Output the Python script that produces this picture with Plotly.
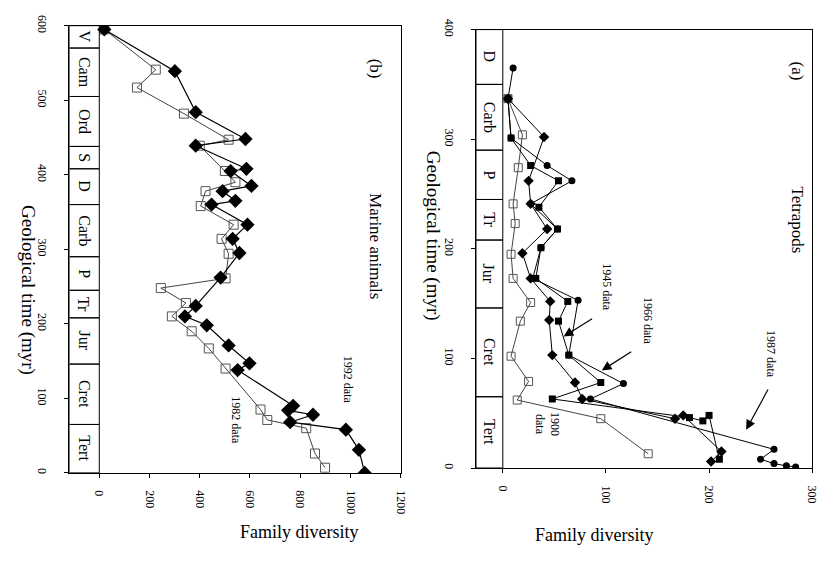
import plotly.graph_objects as go

# ---------------- Panel (b): Marine animals ----------------
b92_time = [595, 539, 484, 448, 439, 408, 405, 385, 378, 365, 360, 333, 314, 295, 262, 224, 210, 198, 171, 147, 138, 90, 84, 78, 68, 58, 31, 0]
b92_div = [20, 301, 384, 582, 384, 586, 523, 606, 491, 542, 447, 590, 531, 558, 483, 384, 341, 428, 515, 598, 551, 772, 752, 851, 760, 982, 1034, 1057]

b82_time = [595, 541, 517, 482, 447, 439, 405, 390, 378, 358, 333, 314, 294, 261, 248, 228, 210, 190, 167, 140, 85, 71, 60, 26, 7]
b82_div = [20, 225, 150, 337, 515, 400, 500, 542, 423, 404, 535, 487, 515, 503, 245, 345, 289, 368, 436, 503, 642, 669, 824, 859, 899]

b_periods = ["V", "Cam", "Ord", "S", "D", "Carb", "P", "Tr", "Jur", "Cret", "Tert"]
b_bounds = [600, 570, 505, 438, 408, 360, 290, 245, 208, 146, 65, 0]
b_xticks = [0, 200, 400, 600, 800, 1000, 1200]
b_yticks = [0, 100, 200, 300, 400, 500, 600]

# ---------------- Panel (a): Tetrapods ----------------
a00_time = [337, 304, 274, 241, 223, 195, 173, 151, 134, 102, 79, 62, 45, 13]
a00_div = [5, 19, 15, 10, 12, 8, 10, 27, 17, 8, 25, 14, 95, 141]

a45_time = [337, 302, 262, 241, 218, 196, 173, 152, 135, 103, 78, 63, 45, 48, 15, 6]
a45_div = [5, 40, 25, 27, 43, 19, 27, 46, 45, 48, 70, 77, 167, 175, 212, 202]

a66_time = [337, 301, 276, 262, 238, 218, 201, 173, 152, 134, 103, 78, 63, 46, 43, 48, 8]
a66_div = [5, 8, 27, 54, 35, 53, 37, 32, 63, 54, 64, 95, 48, 181, 194, 200, 210]

a87_time = [365, 337, 301, 276, 262, 241, 218, 201, 173, 153, 103, 77, 63, 17, 8, 4, 2, 1]
a87_div = [10, 5, 8, 43, 67, 27, 53, 37, 29, 73, 64, 117, 85, 263, 250, 263, 275, 284]

a_periods = ["D", "Carb", "P", "Tr", "Jur", "Cret", "Tert"]
a_bounds = [400, 350, 290, 245, 208, 146, 65, 0]
a_xticks = [0, 100, 200, 300]
a_yticks = [0, 100, 200, 300, 400]

SERIF = "Liberation Serif"
W, H = 839, 561

fig = go.Figure()

# panel b traces
fig.add_trace(go.Scatter(x=b82_div, y=b82_time, mode="lines+markers", xaxis="x", yaxis="y",
                         line=dict(color="#444", width=1),
                         marker=dict(symbol="square-open", size=9, color="#555", line=dict(width=1)),
                         showlegend=False))
fig.add_trace(go.Scatter(x=b92_div, y=b92_time, mode="lines+markers", xaxis="x", yaxis="y",
                         line=dict(color="black", width=1.2),
                         marker=dict(symbol="diamond", size=11, color="black"),
                         showlegend=False))

# panel a traces
fig.add_trace(go.Scatter(x=a00_div, y=a00_time, mode="lines+markers", xaxis="x2", yaxis="y2",
                         line=dict(color="#444", width=1),
                         marker=dict(symbol="square-open", size=8, color="#555", line=dict(width=1)),
                         showlegend=False))
fig.add_trace(go.Scatter(x=a45_div, y=a45_time, mode="lines+markers", xaxis="x2", yaxis="y2",
                         line=dict(color="black", width=1),
                         marker=dict(symbol="diamond", size=8, color="black"),
                         showlegend=False))
fig.add_trace(go.Scatter(x=a66_div, y=a66_time, mode="lines+markers", xaxis="x2", yaxis="y2",
                         line=dict(color="black", width=1),
                         marker=dict(symbol="square", size=7, color="black"),
                         showlegend=False))
fig.add_trace(go.Scatter(x=a87_div, y=a87_time, mode="lines+markers", xaxis="x2", yaxis="y2",
                         line=dict(color="black", width=1),
                         marker=dict(symbol="circle", size=7, color="black"),
                         showlegend=False))

shapes = []
annotations = []

def column(periods, bounds, xref, yref, xleft):
    for i, name in enumerate(periods):
        top, bot = bounds[i], bounds[i + 1]
        shapes.append(dict(type="rect", xref=xref, yref=yref, x0=xleft, x1=0, y0=bot, y1=top,
                           line=dict(color="black", width=1), fillcolor="rgba(0,0,0,0)", layer="above"))
        annotations.append(dict(xref=xref, yref=yref, x=xleft / 2, y=(top + bot) / 2, text=name,
                                showarrow=False, textangle=90,
                                font=dict(family=SERIF, size=16, color="black")))

column(b_periods, b_bounds, "x", "y", -119)
column(a_periods, a_bounds, "x2", "y2", -26)

def rot_text(xref, yref, x, y, text, size):
    annotations.append(dict(xref=xref, yref=yref, x=x, y=y, text=text, showarrow=False,
                            textangle=90, font=dict(family=SERIF, size=size, color="black")))

# panel titles and data labels
rot_text("x", "y", 1100, 543, "(b)", 17)
rot_text("x", "y", 1100, 305, "Marine animals", 17)
rot_text("x", "y", 990, 125, "1992 data", 12)
rot_text("x", "y", 543, 71, "1982 data", 12)

rot_text("x2", "y2", 286, 362, "(a)", 17)
rot_text("x2", "y2", 286, 226, "Tetrapods", 17)
rot_text("x2", "y2", 101, 165, "1945 data", 12)
rot_text("x2", "y2", 141, 134, "1966 data", 12)
rot_text("x2", "y2", 260, 104, "1987 data", 12)
rot_text("x2", "y2", 43, 40, "1900<br>data", 12)

# arrows (panel a)
for head, tail in [((59, 120), (88, 137)), ((96, 89), (126, 107)), ((236, 35), (258, 73))]:
    annotations.append(dict(xref="x2", yref="y2", axref="x2", ayref="y2",
                            x=head[0], y=head[1], ax=tail[0], ay=tail[1], text="",
                            showarrow=True, arrowhead=2, arrowsize=1.6, arrowwidth=1.2,
                            arrowcolor="black"))

# axis titles
annotations.append(dict(xref="paper", yref="paper", x=15 / W, y=1 - 285 / H,
                        text="Geological time (myr)", showarrow=False, textangle=90,
                        font=dict(family=SERIF, size=19, color="black")))
annotations.append(dict(xref="paper", yref="paper", x=437 / W, y=1 - 230 / H,
                        text="Geological time (myr)", showarrow=False, textangle=90,
                        font=dict(family=SERIF, size=19, color="black")))
annotations.append(dict(xref="paper", yref="paper", x=240 / W, y=1 - 545 / H,
                        text="Family diversity", showarrow=False,
                        font=dict(family=SERIF, size=18, color="black")))
annotations.append(dict(xref="paper", yref="paper", x=662 / W, y=1 - 548 / H,
                        text="Family diversity", showarrow=False,
                        font=dict(family=SERIF, size=18, color="black")))

axis_common = dict(showgrid=False, zeroline=False, showline=True, linecolor="black", linewidth=1,
                   mirror=True, ticks="outside", ticklen=4, tickcolor="black",
                   tickfont=dict(family=SERIF, size=12, color="black"), tickangle=90)

fig.update_layout(
    width=W, height=H,
    margin=dict(l=0, r=0, t=0, b=0),
    paper_bgcolor="white", plot_bgcolor="white",
    xaxis=dict(axis_common, domain=[70 / W, 404 / W], range=[-119, 1200], tickvals=b_xticks,
               anchor="y", ticklabelstandoff=10),
    yaxis=dict(axis_common, domain=[1 - 472 / H, 1 - 15 / H], range=[0, 600], tickvals=b_yticks,
               anchor="x", ticklabelstandoff=12),
    xaxis2=dict(axis_common, domain=[480 / W, 819 / W], range=[-26, 300], tickvals=a_xticks,
                anchor="y2", ticklabelstandoff=10),
    yaxis2=dict(axis_common, domain=[1 - 467 / H, 1 - 19 / H], range=[0, 400], tickvals=a_yticks,
                anchor="x2", ticklabelstandoff=12),
    shapes=shapes,
    annotations=annotations,
)

fig.write_html("out.html")
